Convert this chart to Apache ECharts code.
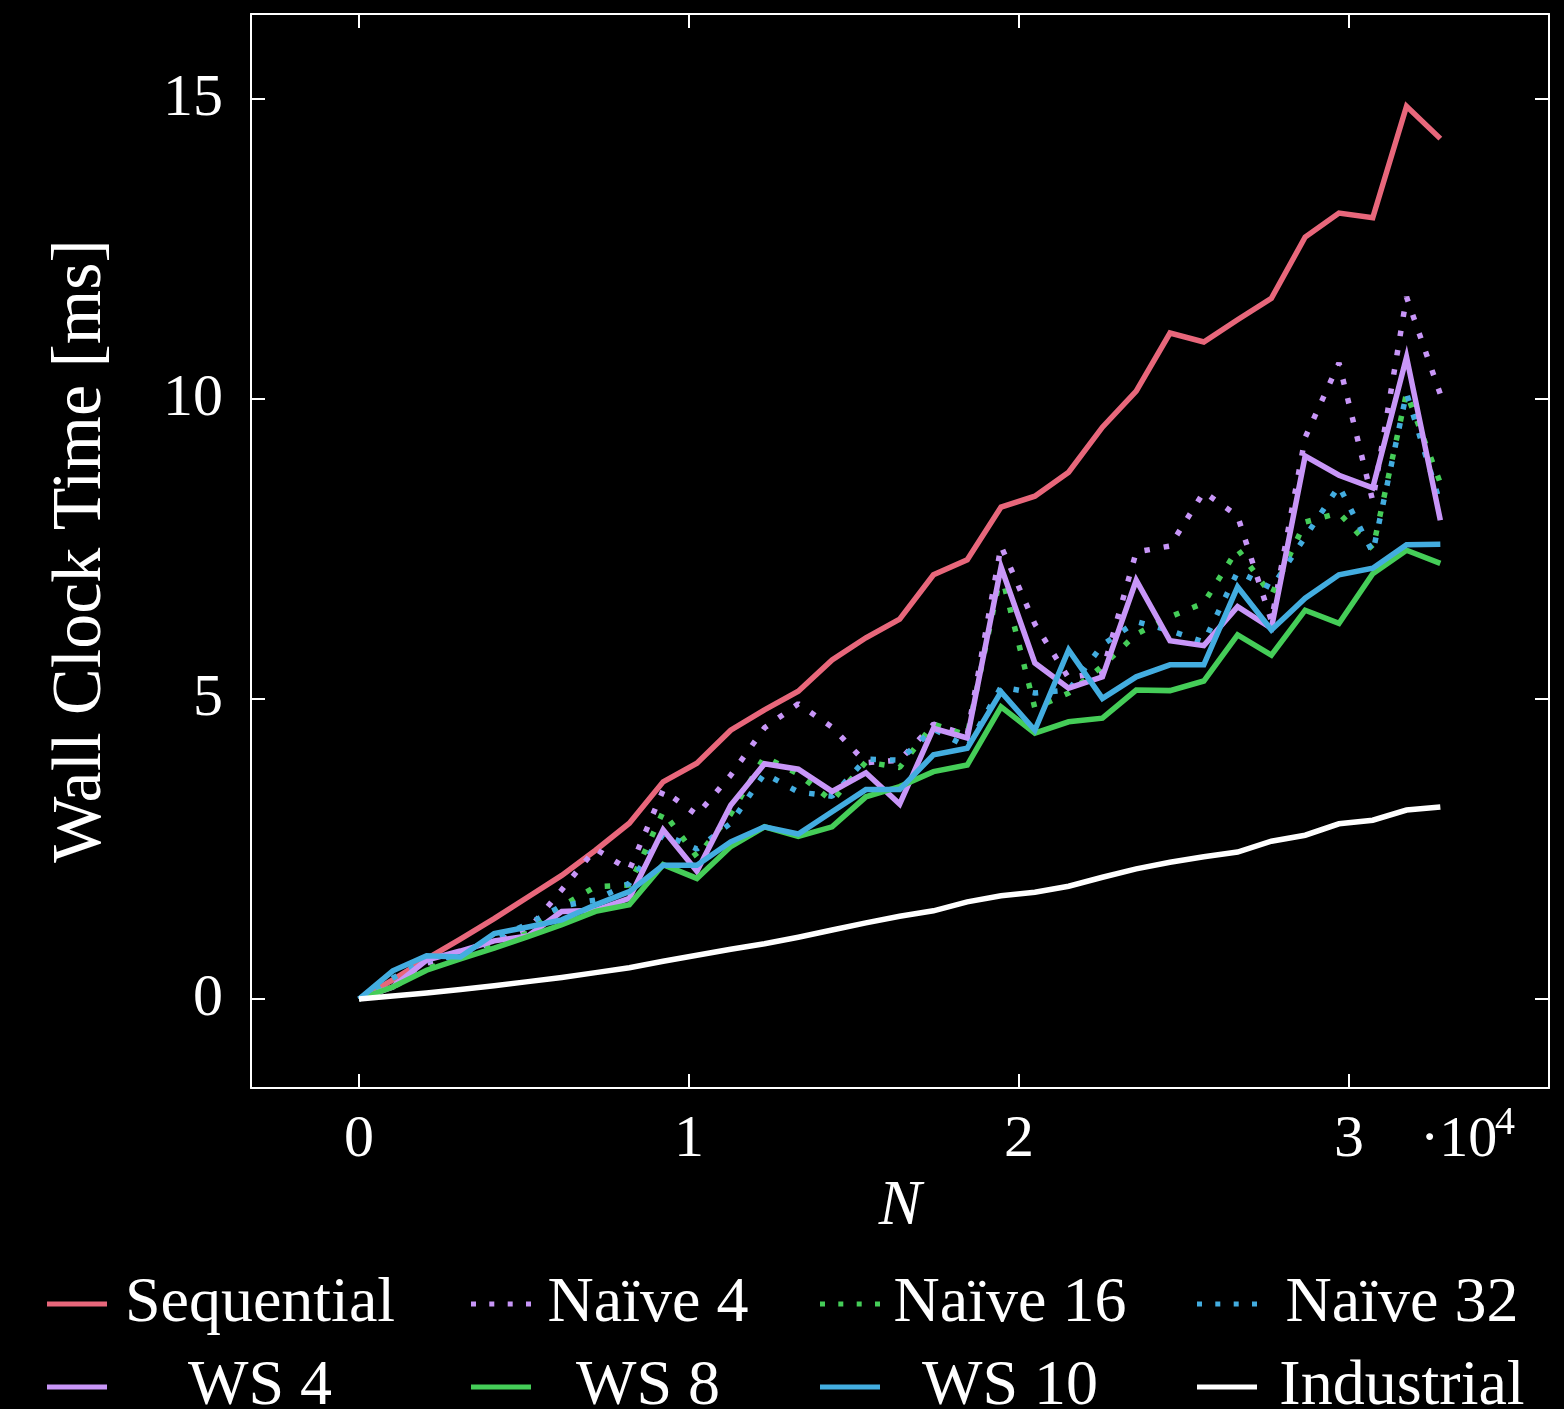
<!DOCTYPE html>
<html>
<head>
<meta charset="utf-8">
<script src="https://cdn.jsdelivr.net/npm/echarts@6/dist/echarts.min.js"></script>
<style>
  html, body { margin: 0; padding: 0; background: #000; }
  #chart { width: 1564px; height: 1409px; }
</style>
</head>
<body>
<div id="chart"></div>
<script>
// --- data ---
const nValues = [0, 1024, 2048, 3072, 4096, 5120, 6144, 7168, 8192, 9216, 10240, 11264, 12288, 13312, 14336, 15360, 16384,
  17408, 18432, 19456, 20480, 21504, 22528, 23552, 24576, 25600, 26624, 27648, 28672, 29696, 30720, 31744, 32768];

const sequential = [0, 0.32, 0.67, 1.0, 1.34, 1.7, 2.06, 2.48, 2.93, 3.62, 3.93, 4.48, 4.82, 5.13, 5.65, 6.02, 6.33,
  7.07, 7.32, 8.2, 8.38, 8.78, 9.53, 10.13, 11.1, 10.95, 11.32, 11.68, 12.7, 13.1, 13.02, 14.88, 14.34];
const naive4 = [0, 0.22, 0.6, 0.75, 0.95, 1.15, 1.82, 2.5, 2.15, 3.48, 3.07, 3.73, 4.52, 4.92, 4.53, 3.94, 3.98,
  4.58, 4.4, 7.55, 6.25, 5.35, 5.45, 7.45, 7.55, 8.45, 8.05, 6.3, 9.36, 10.6, 8.3, 11.7, 10.08];
const naive16 = [0, 0.2, 0.5, 0.7, 0.9, 1.1, 1.55, 1.87, 1.9, 3.12, 2.37, 3.08, 4.04, 3.75, 3.3, 3.95, 3.86,
  4.58, 4.4, 7.1, 4.85, 5.1, 5.55, 6.08, 6.37, 6.6, 7.5, 6.73, 7.95, 8.1, 7.5, 10.1, 8.6];
const naive32 = [0, 0.35, 0.65, 0.72, 1.0, 1.25, 1.55, 1.65, 1.93, 2.75, 2.5, 2.93, 3.76, 3.45, 3.38, 4.0, 3.98,
  4.5, 4.2, 5.2, 5.1, 5.15, 5.9, 6.29, 6.14, 5.95, 7.12, 6.85, 7.7, 8.55, 7.44, 10.1, 8.26];
const ws4 = [0, 0.2, 0.65, 0.8, 0.97, 1.05, 1.46, 1.48, 1.68, 2.82, 2.13, 3.23, 3.92, 3.83, 3.46, 3.77, 3.25,
  4.51, 4.35, 7.2, 5.6, 5.18, 5.37, 6.98, 5.97, 5.89, 6.54, 6.18, 9.05, 8.73, 8.52, 10.7, 7.98];
const ws8 = [0, 0.2, 0.48, 0.67, 0.85, 1.04, 1.24, 1.46, 1.57, 2.24, 2.01, 2.54, 2.87, 2.71, 2.87, 3.37, 3.54,
  3.79, 3.9, 4.87, 4.43, 4.62, 4.68, 5.15, 5.14, 5.3, 6.07, 5.73, 6.48, 6.26, 7.09, 7.48, 7.26];
const ws10 = [0, 0.47, 0.72, 0.7, 1.09, 1.2, 1.32, 1.57, 1.79, 2.23, 2.23, 2.62, 2.87, 2.75, 3.12, 3.49, 3.49,
  4.07, 4.18, 5.12, 4.48, 5.82, 5.01, 5.37, 5.57, 5.57, 6.87, 6.15, 6.68, 7.07, 7.18, 7.57, 7.58];
const industrial = [0, 0.05, 0.1, 0.16, 0.22, 0.29, 0.36, 0.44, 0.52, 0.63, 0.73, 0.83, 0.92, 1.03, 1.15, 1.27, 1.38,
  1.47, 1.62, 1.72, 1.78, 1.88, 2.03, 2.17, 2.28, 2.37, 2.45, 2.63, 2.73, 2.92, 2.98, 3.15, 3.2];

const xTicks = [0, 10000, 20000, 30000];
const yTicks = [0, 5, 10, 15];

// --- style ---
const FONT = '"Liberation Serif", "DejaVu Serif", serif';
const RED = '#e8677b';
const PURPLE = '#c896f8';
const GREEN = '#45cd58';
const BLUE = '#43ade0';
const WHITE = '#ffffff';
const DOTS = [5.5, 14];
const DOT_ICON = 'path://M0,0h5v5h-5zM18.3,0h5v5h-5zM36.7,0h5v5h-5zM55,0h5v5h-5z';

const seriesDefs = [
  { name: 'Sequential', data: sequential, color: RED, dotted: false },
  { name: 'Naïve 4', data: naive4, color: PURPLE, dotted: true },
  { name: 'Naïve 16', data: naive16, color: GREEN, dotted: true },
  { name: 'Naïve 32', data: naive32, color: BLUE, dotted: true },
  { name: 'WS 4', data: ws4, color: PURPLE, dotted: false },
  { name: 'WS 8', data: ws8, color: GREEN, dotted: false },
  { name: 'WS 10', data: ws10, color: BLUE, dotted: false },
  { name: 'Industrial', data: industrial, color: WHITE, dotted: false }
];

function buildSeries() {
  return seriesDefs.map((s) => ({
    name: s.name,
    type: 'line',
    data: nValues.map((n, i) => [n, s.data[i]]),
    symbol: 'none',
    smooth: false,
    color: s.color,
    lineStyle: {
      color: s.color,
      width: 5.5,
      type: s.dotted ? DOTS : 'solid',
      cap: 'butt',
      join: s.dotted ? 'bevel' : 'miter',
      miterLimit: 10
    },
    emphasis: { disabled: true }
  }));
}

function axisFrame(extra) {
  return Object.assign({
    type: 'value',
    axisLine: { show: true, onZero: false, lineStyle: { color: WHITE, width: 2 } },
    splitLine: { show: false }
  }, extra);
}

// legend: 4 columns x 2 rows, each text centred inside its column
const legendCols = [
  { left: 42, w: 272 },
  { left: 466, w: 200 },
  { left: 815, w: 226 },
  { left: 1192, w: 256 }
];
const legendRowsY = [1303, 1386];

function buildLegends() {
  return seriesDefs.map((s, i) => {
    const col = legendCols[i % 4];
    const rowY = legendRowsY[Math.floor(i / 4)];
    return {
      left: col.left,
      top: rowY - 36,
      itemWidth: 60,
      itemHeight: 5,
      selectedMode: false,
      itemStyle: { borderWidth: 0 },
      data: [{ name: s.name, icon: s.dotted ? DOT_ICON : 'rect', itemStyle: { color: s.color, borderWidth: 0 } }],
      formatter: (name) => `{t|${name}}`,
      textStyle: {
        color: WHITE,
        fontFamily: FONT,
        fontSize: 64,
        rich: {
          t: { width: col.w + 24, align: 'center', color: WHITE, fontFamily: FONT, fontSize: 64, lineHeight: 56 }
        }
      }
    };
  });
}

const chart = echarts.init(document.getElementById('chart'), null, { renderer: 'canvas' });

chart.setOption({
  backgroundColor: '#000',
  animation: false,
  grid: { left: 251, top: 14, width: 1298, height: 1074, containLabel: false },
  xAxis: [
    axisFrame({
      min: -3273,
      max: 36061,
      position: 'bottom',
      axisTick: { show: true, inside: true, length: 14, customValues: xTicks, lineStyle: { color: WHITE, width: 2 } },
      axisLabel: {
        customValues: xTicks,
        formatter: (v) => String(v / 10000),
        color: WHITE, fontFamily: FONT, fontSize: 60, margin: 22
      },
      name: 'N',
      nameLocation: 'middle',
      nameGap: 76,
      nameTextStyle: { color: WHITE, fontFamily: FONT, fontSize: 64, fontStyle: 'italic' }
    }),
    axisFrame({
      min: -3273,
      max: 36061,
      position: 'top',
      axisTick: { show: true, inside: true, length: 14, customValues: xTicks, lineStyle: { color: WHITE, width: 2 } },
      axisLabel: { show: false }
    })
  ],
  yAxis: [
    axisFrame({
      min: -1.483,
      max: 16.417,
      position: 'left',
      axisTick: { show: true, inside: true, length: 14, customValues: yTicks, lineStyle: { color: WHITE, width: 2 } },
      axisLabel: { customValues: yTicks, color: WHITE, fontFamily: FONT, fontSize: 60, margin: 28 },
      name: 'Wall Clock Time [ms]',
      nameLocation: 'middle',
      nameGap: 134,
      nameTextStyle: { color: WHITE, fontFamily: FONT, fontSize: 70 }
    }),
    axisFrame({
      min: -1.483,
      max: 16.417,
      position: 'right',
      axisTick: { show: true, inside: true, length: 14, customValues: yTicks, lineStyle: { color: WHITE, width: 2 } },
      axisLabel: { show: false }
    })
  ],
  legend: buildLegends(),
  graphic: [
    { type: 'text', x: 1420, y: 1141, style: { text: '·10', fill: WHITE, fontFamily: FONT, fontSize: 58, align: 'left', verticalAlign: 'middle' } },
    { type: 'text', x: 1495, y: 1123, style: { text: '4', fill: WHITE, fontFamily: FONT, fontSize: 40, align: 'left', verticalAlign: 'middle' } }
  ],
  series: buildSeries()
});
</script>
</body>
</html>
